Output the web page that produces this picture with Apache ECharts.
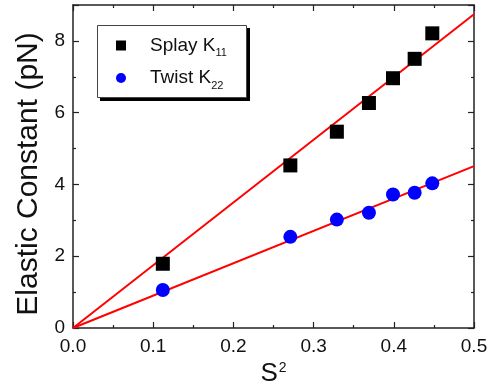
<!DOCTYPE html>
<html>
<head>
<meta charset="utf-8">
<script src="https://cdn.jsdelivr.net/npm/echarts@6/dist/echarts.min.js"></script>
<style>
  html, body { margin: 0; padding: 0; background: #fff; }
  #chart { width: 494px; height: 381px; }
</style>
</head>
<body>
<div id="chart"></div>
<script>
// S^2 values shared by both series
const s2 = [0.112, 0.271, 0.329, 0.369, 0.399, 0.426, 0.448];
const splayK11 = [1.79, 4.53, 5.47, 6.27, 6.96, 7.50, 8.21];
const twistK22 = [1.06, 2.54, 3.02, 3.21, 3.72, 3.77, 4.03];

// linear fits through origin (value at x = 0 and x = 0.5)
const fitX = [0, 0.5];
const splayFit = [0, 8.74];
const twistFit = [0, 4.51];

const font = 'Liberation Sans, Arial, sans-serif';
const axisCol = '#222';

const pairs = (xs, ys) => xs.map((x, i) => [x, ys[i]]);

const chart = echarts.init(document.getElementById('chart'));

const tickCommon = {
  axisLine: { show: true, onZero: false, lineStyle: { color: axisCol, width: 1.5 } },
  axisTick: { show: true, inside: true, length: 6, lineStyle: { color: axisCol, width: 1.2 } },
  minorTick: { show: true, splitNumber: 2, length: 3, lineStyle: { color: axisCol, width: 1.2 } },
  splitLine: { show: false }
};

chart.setOption({
  animation: false,
  textStyle: { fontFamily: font },
  grid: { left: 73, right: 20, top: 5, bottom: 53, outerBoundsMode: 'none', containLabel: false },
  // legend frame: black drop shadow + white box
  graphic: [
    {
      type: 'rect', left: 100, top: 28, z: 3,
      shape: { width: 150, height: 73 },
      style: { fill: '#000' }
    },
    {
      type: 'rect', left: 97, top: 25, z: 4,
      shape: { width: 149, height: 72 },
      style: { fill: '#fff', stroke: '#444', lineWidth: 1 }
    }
  ],
  legend: {
    data: ['Splay K11', 'Twist K22'],
    orient: 'vertical',
    left: 97, top: 25, z: 6,
    padding: [11, 22, 9, 19],
    itemGap: 10,
    itemWidth: 10, itemHeight: 10,
    formatter: function (name) {
      return '{a|' + name.slice(0, -2) + '}{s|' + name.slice(-2) + '}';
    },
    textStyle: {
      padding: [0, 0, 0, 19],
      rich: {
        a: { fontSize: 19, color: '#111', fontFamily: font },
        s: { fontSize: 11, color: '#111', fontFamily: font, verticalAlign: 'bottom', padding: [15, 0, 0, 0] }
      }
    }
  },
  xAxis: [
    Object.assign({
      type: 'value', min: 0, max: 0.5, interval: 0.1, position: 'bottom',
      axisLabel: { color: '#111', fontSize: 19, margin: 9, formatter: v => v.toFixed(1) },
      name: '{a|S}{b|2}', nameLocation: 'middle', nameGap: 32,
      nameTextStyle: {
        rich: {
          a: { fontSize: 26, color: '#111', fontFamily: font },
          b: { fontSize: 14, color: '#111', fontFamily: font, verticalAlign: 'top', padding: [0, 0, 12, 1] }
        }
      }
    }, tickCommon),
    Object.assign({
      type: 'value', min: 0, max: 0.5, interval: 0.1, position: 'top',
      axisLabel: { show: false }
    }, tickCommon)
  ],
  yAxis: [
    Object.assign({
      type: 'value', min: 0, max: 9, interval: 2, position: 'left',
      axisLabel: { color: '#111', fontSize: 19, margin: 8, showMaxLabel: false },
      name: 'Elastic Constant (pN)', nameLocation: 'middle', nameGap: 28,
      nameTextStyle: { fontSize: 30, color: '#111', padding: [0, 15, 0, 0] }
    }, tickCommon),
    Object.assign({
      type: 'value', min: 0, max: 9, interval: 2, position: 'right',
      axisLabel: { show: false }
    }, tickCommon)
  ],
  series: [
    {
      name: 'Splay fit', type: 'line', data: pairs(fitX, splayFit),
      showSymbol: false, lineStyle: { color: '#f00', width: 2 }, z: 2, silent: true
    },
    {
      name: 'Twist fit', type: 'line', data: pairs(fitX, twistFit),
      showSymbol: false, lineStyle: { color: '#f00', width: 2 }, z: 2, silent: true
    },
    {
      name: 'Splay K11', type: 'scatter', data: pairs(s2, splayK11),
      symbol: 'rect', symbolSize: 14, itemStyle: { color: '#000', opacity: 1 }, z: 3
    },
    {
      name: 'Twist K22', type: 'scatter', data: pairs(s2, twistK22),
      symbol: 'circle', symbolSize: 14, itemStyle: { color: '#0000ff', opacity: 1 }, z: 3
    }
  ]
});
</script>
</body>
</html>
